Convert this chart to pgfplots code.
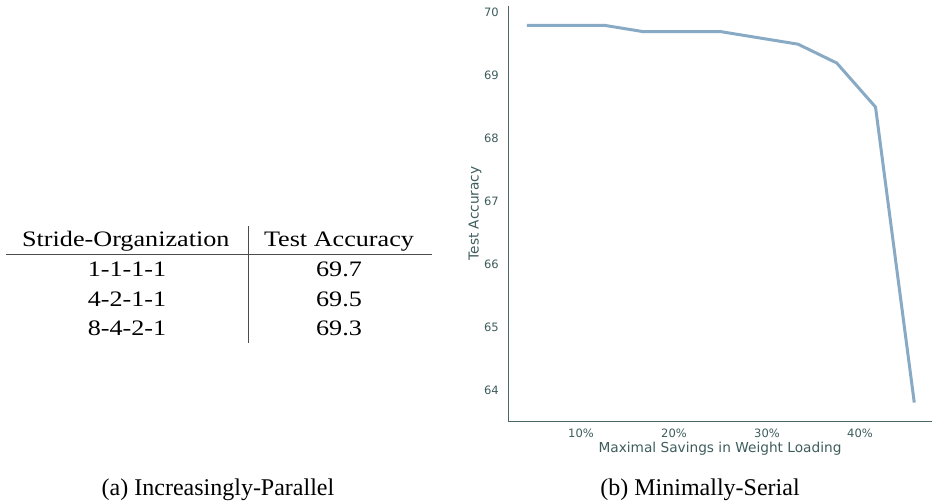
\documentclass[border=0pt]{standalone}
\usepackage{fontspec}
\setmainfont{Liberation Serif}
\newfontfamily\dejavu{DejaVu Sans}
\usepackage{pgfplots}
\pgfplotsset{compat=1.18}
\definecolor{axcol}{HTML}{4A6666}
\definecolor{txtcol}{HTML}{3E5C5C}
\definecolor{linecol}{HTML}{88AAC4}
\begin{document}
\begin{tikzpicture}
\useasboundingbox (0,-502bp) rectangle (932bp,0);
% ---- table (a) ----
\begin{scope}[every node/.style={inner sep=0pt, anchor=base, xscale=1.09, yscale=0.92, font=\fontsize{24bp}{29bp}\selectfont}]
\node at (125.8bp,-246.5bp) {Stride-Organization};
\node at (339bp,-246.5bp) {Test Accuracy};
\node at (127bp,-276.7bp) {1-1-1-1};
\node at (127bp,-306bp) {4-2-1-1};
\node at (127bp,-335bp) {8-4-2-1};
\node at (339bp,-276.7bp) {69.7};
\node at (339bp,-306bp) {69.5};
\node at (339bp,-335bp) {69.3};
\end{scope}
\begin{scope}[every node/.style={inner sep=0pt, anchor=base, font=\fontsize{24bp}{29bp}\selectfont}]
\node at (218bp,-495bp) {(a) Increasingly-Parallel};
\node at (700bp,-495bp) {(b) Minimally-Serial};
\end{scope}
\draw[line width=0.8bp, black!70] (6bp,-254bp) -- (431.7bp,-254bp);
\draw[line width=0.8bp, black!70] (248.3bp,-226bp) -- (248.3bp,-343bp);
% ---- chart (b) ----
\begin{axis}[
  at={(508bp,-421bp)}, anchor=south west,
  scale only axis, width=424bp, height=415bp,
  xmin=2.15, xmax=47.74, ymin=63.507, ymax=70.107,
  axis lines*=left,
  axis line style={-, color=axcol, line width=1bp},
  major tick length=0pt,
  xtick={10,20,30,40}, xticklabels={10\%,20\%,30\%,40\%},
  ytick={64,65,66,67,68,69,70}, yticklabels={64,65,66,67,68,69,70},
  ticklabel style={font=\dejavu\fontsize{11.5bp}{14bp}\selectfont, text=txtcol, inner sep=0pt},
  xticklabel style={anchor=north, yshift=-8bp},
  yticklabel style={anchor=east, xshift=-9bp},
  xlabel={Maximal Savings in Weight Loading},
  ylabel={Test Accuracy},
  label style={font=\dejavu\fontsize{13.7bp}{16bp}\selectfont, text=txtcol, inner sep=0pt},
  xlabel style={at={(axis description cs:0.5,-0.0675)}, anchor=center},
  ylabel style={at={(axis description cs:-0.0778,0.5)}, anchor=center},
  clip=false,
]
\addplot[color=linecol, line width=3bp, line join=round] coordinates {
(4.1667,69.8) (12.5,69.8) (16.6667,69.7) (25,69.7) (33.3333,69.5) (37.5,69.2) (41.6667,68.5) (45.8333,63.8)
};
\end{axis}
\end{tikzpicture}
\end{document}
